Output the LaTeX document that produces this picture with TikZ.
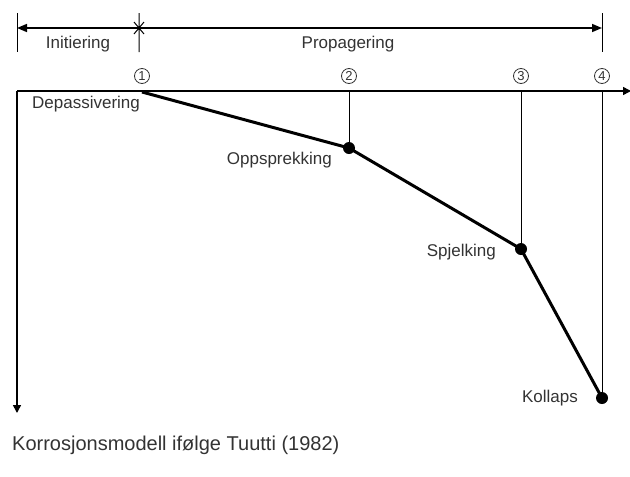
\documentclass[tikz,border=0pt]{standalone}
\usepackage{fontspec}
\setmainfont{Liberation Sans}
\usetikzlibrary{arrows.meta,positioning}

\begin{document}
\begin{tikzpicture}[
    x=1pt, y=-1pt,
    axis/.style={line width=1.5pt,-{Triangle[length=8pt,width=8pt]}},
    span/.style={line width=1.5pt,-{Triangle[length=10pt,width=8pt]}},
    tick/.style={line width=1pt},
    guide/.style={line width=1pt},
    curve/.style={line width=3pt},
    stage/.style={circle,fill=black,inner sep=0pt,minimum size=12pt},
    label/.style={font=\fontsize{17}{20}\selectfont,text=black!80,inner sep=1pt},
    number/.style={circle,draw=black!80,line width=0.8pt,minimum size=15pt,inner sep=0pt,
        font=\fontsize{13}{14}\selectfont,text=black!80}
]
\useasboundingbox (0,0) rectangle (630,477);

% Time spans
\coordinate (start) at (17,28);
\coordinate (split) at (139,28);
\coordinate (stop) at (602,28);
\draw[tick] (17,13) -- (17,52);
\draw[tick] (602,13) -- (602,52);
\draw[tick] (134,22) -- (144,34) (134,34) -- (144,22) (139,13) -- (139,52);
\draw[span] (split) -- (start);
\draw[span] (split) -- (stop);
\node[label] (init) at (78,44) {Initiering};
\node[label] (prop) at (348,44) {Propagering};

% Axes
\coordinate (origin) at (17,91);
\coordinate (xend) at (631,91);
\coordinate (yend) at (17,413);
\draw[axis] (origin) -- (xend);
\draw[axis] (origin) -- (yend);

% Stages
\coordinate (s1) at (142,92);
\node[stage] (s2) at (349,148) {};
\node[stage] (s3) at (521,249) {};
\node[stage] (s4) at (602,398) {};

\node[number] (n1) at (142,76) {1};
\node[number] (n2) at (349,76) {2};
\node[number] (n3) at (521,76) {3};
\node[number] (n4) at (602,76) {4};

\draw[guide] (349,91) -- (s2.center);
\draw[guide] (521,91) -- (s3.center);
\draw[guide] (602,91) -- (s4.center);

\draw[curve] (s1) -- (s2.center) -- (s3.center) -- (s4.center);

% Labels
\node[label,anchor=west] (depass) at (31,104) {Depassivering};
\node[label,anchor=east] (crack) at (333,160) {Oppsprekking};
\node[label,anchor=east] (spall) at (497,252) {Spjelking};
\node[label,anchor=east] (coll) at (579,398) {Kollaps};

\node[label,anchor=west,font=\fontsize{20}{23}\selectfont] (caption) at (11,445) {Korrosjonsmodell ifølge Tuutti (1982)};

\end{tikzpicture}
\end{document}
